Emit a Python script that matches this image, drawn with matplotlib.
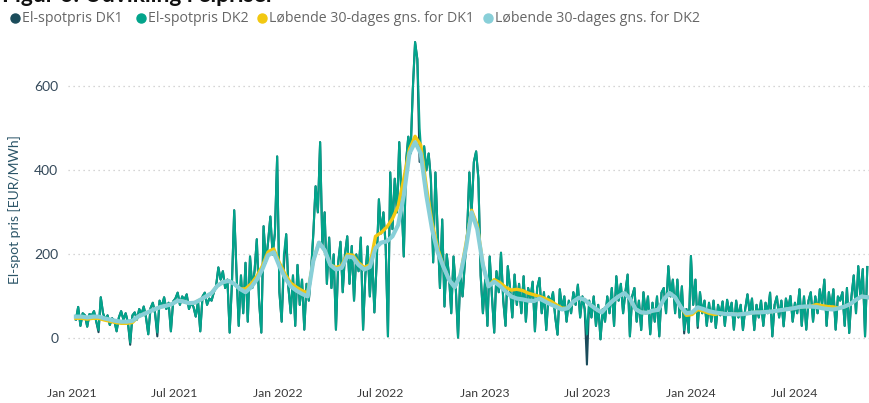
import matplotlib
matplotlib.use('Agg')
import matplotlib.pyplot as plt
import pandas as pd
from matplotlib.lines import Line2D

# ---------------- data ----------------
spot_start = '2021-01-08'
spot_step = '4D'
dk2_spot = [
    45, 75, 30, 60, 55, 28, 58,
    55, 65, 40, 20, 98, 60,
    45, 55, 32, 48, 42, 17, 50, 65,
    45, 60, 38, -10, 55, 62, 45, 70,
    58, 76, 50, 10, 72, 85, 60, 14,
    90, 75, 98, 70, 85, 17, 88,
    95, 109, 80, 100, 92, 105, 70, 85,
    75, 52, 88, 17, 100, 109, 80, 95,
    90, 110, 125, 169, 140, 160, 120, 140,
    14, 130, 305, 160, 30, 150, 60,
    180, 40, 195, 120, 160, 236, 90,
    14, 267, 180, 230, 290, 200, 250, 433,
    110, 40, 200, 248, 120, 60, 150, 30,
    175, 80, 140, 21, 130, 90, 160,
    250, 362, 300, 467, 220, 300, 130, 240,
    120, 200, 21, 180, 230, 110, 200,
    243, 130, 220, 90, 200, 160, 240, 21,
    150, 219, 100, 200, 62, 180, 331,
    250, 300, 220, 5, 395, 260, 380, 300,
    467, 330, 195, 420, 480, 440, 593, 705,
    664, 500, 420, 457, 400, 440, 379,
    181, 395, 250, 120, 283, 76, 200, 150,
    60, 195, 120, 2, 150, 100, 180,
    250, 395, 300, 420, 445, 380, 150, 60,
    140, 30, 195, 100, 14, 160, 110, 204,
    90, 30, 172, 120, 50, 152, 80,
    130, 60, 148, 40, 120, 95, 135, 17,
    120, 144, 60, 110, 20, 100, 85,
    110, 50, 9, 117, 70, 100, 40, 90,
    60, 110, 80, 128, 50, 100, 70, 10,
    90, 50, 100, 30, 80, -2, 70,
    40, 100, 60, 120, 30, 148, 90, 130,
    60, 110, 152, 5, 100, 120, 40,
    90, 20, 110, 60, 100, 10, 85, 40,
    100, 5, 109, 120, 60, 172, 100, 140,
    60, 140, 50, 124, 20, 70, 14,
    196, 80, 140, 30, 110, 60, 90, 30,
    85, 40, 90, 25, 80, 55, 88,
    30, 92, 60, 85, 21, 90, 50, 80,
    20, 70, 105, 60, 95, 20, 80, 50,
    90, 30, 85, 60, 109, 5, 80, 100,
    50, 90, 29, 95, 70, 101, 40,
    85, 60, 117, 30, 100, 21, 90, 110,
    40, 100, 60, 117, 80, 140, 30, 110,
    70, 117, 21, 100, 90, 110, 30,
    120, 13, 100, 150, 60, 172, 100, 165,
    5, 170,
]
# DK1 follows DK2 except at these readings
dk1_diff_idx = [10, 24, 36, 92, 152, 226, 269, 275]
dk1_diff_val = [15, -15, 5, 175, 420, -62, 12, 25]

avg_start = '2021-01-08'
avg_step = '10D'
dk2_avg = [
    52, 52, 50, 52, 52, 48, 45, 42, 40, 40,
    42, 52, 58, 64, 70, 75, 78, 82, 90, 88,
    84, 85, 92, 100, 108, 125, 134, 137, 130, 118,
    110, 122, 140, 165, 198, 205, 172, 145, 124, 114,
    106, 100, 185, 228, 210, 175, 164, 168, 195, 193,
    175, 164, 170, 215, 228, 231, 243, 270, 340, 440,
    467, 440, 340, 260, 205, 171, 140, 122, 150, 215,
    300, 260, 175, 124, 135, 125, 112, 100, 95, 93,
    90, 89, 95, 88, 81, 75, 69, 72, 88, 97,
    92, 80, 70, 62, 77, 90, 100, 108, 95, 70,
    62, 61, 66, 68, 93, 108, 98, 75, 60, 62,
    74, 70, 65, 62, 60, 58, 58, 57, 58, 60,
    62, 62, 63, 64, 66, 68, 70, 72, 75, 76,
    76, 75, 72, 70, 69, 72, 76, 82, 92, 100,
    98,
]
dk1_avg = [
    48, 48, 46, 48, 48, 44, 41, 38, 36, 36, 38,
    52, 58, 64, 70, 75, 78, 82, 90, 88, 84, 85, 92, 100, 108, 125, 134, 137, 130, 118,
    118, 130, 148, 173, 206, 213, 180, 153, 132, 122, 114, 108,
    185, 228, 210, 175,
    169, 173, 200, 198, 180, 169, 175,
    243, 252, 265, 285, 315, 380, 450, 481, 460, 360, 275, 215,
    171, 140, 122, 150,
    225, 305, 270,
    175, 124,
    140, 133, 122, 115, 117, 114, 108, 104, 100, 95, 89, 80, 72,
    72, 88, 97, 92, 80, 70, 62, 77, 90, 100, 108, 95, 70, 62, 61, 66, 68, 93, 108, 98, 75,
    55, 57, 69, 65, 60, 57,
    60, 58, 58, 57, 58, 60, 62, 62, 63, 64, 66, 68, 70, 72, 75, 76, 76,
    81, 78, 76, 75,
    72, 76, 82, 92, 100, 98,
]

series_names = ['El-spotpris DK1', 'El-spotpris DK2',
                'Løbende 30-dages gns. for DK1', 'Løbende 30-dages gns. for DK2']
y_ticks = [0, 200, 400, 600]
x_ticks = ['2021-01-01', '2021-07-01', '2022-01-01', '2022-07-01',
           '2023-01-01', '2023-07-01', '2024-01-01', '2024-07-01']
x_tick_labels = ['Jan 2021', 'Jul 2021', 'Jan 2022', 'Jul 2022',
                 'Jan 2023', 'Jul 2023', 'Jan 2024', 'Jul 2024']
title = 'Figur 6: Udvikling i elpriser'
y_label = 'El-spot pris [EUR/MWh]'

# ---------------- build ----------------
spot_dates = pd.date_range(spot_start, periods=len(dk2_spot), freq=spot_step)
dk1_spot = list(dk2_spot)
for i, v in zip(dk1_diff_idx, dk1_diff_val):
    dk1_spot[i] = v
avg_dates = pd.date_range(avg_start, periods=len(dk2_avg), freq=avg_step)

c_dk1 = '#1B4C5B'
c_dk2 = '#02A48B'
c_avg1 = '#F2C811'
c_avg2 = '#88CFD8'
colors = [c_dk1, c_dk2, c_avg1, c_avg2]

plt.rcParams['font.family'] = ['Lato', 'DejaVu Sans']

fig = plt.figure(figsize=(8.69, 4.03), dpi=100)
ax = fig.add_axes([68 / 869, 33 / 403, 1 - 68 / 869, (370 - 40) / 403])

ax.plot(spot_dates, dk1_spot, color=c_dk1, lw=1.5, zorder=2)
ax.plot(spot_dates, dk2_spot, color=c_dk2, lw=1.5, zorder=3)
ax.plot(avg_dates, dk1_avg, color=c_avg1, lw=2.4, zorder=4, solid_joinstyle='round')
ax.plot(avg_dates, dk2_avg, color=c_avg2, lw=3.0, zorder=5, solid_joinstyle='round')

ax.set_ylim(-75, 710)
ax.set_xlim(pd.Timestamp('2020-12-25'), pd.Timestamp('2024-11-11'))
ax.set_yticks(y_ticks)
ax.set_yticklabels([str(v) for v in y_ticks], fontsize=10, color='#34495A')
ax.set_xticks(pd.to_datetime(x_ticks))
ax.set_xticklabels(x_tick_labels, fontsize=8.8, color='#3A3A3A')
ax.tick_params(axis='both', length=0)
ax.tick_params(axis='x', pad=13)
ax.tick_params(axis='y', pad=7)
ax.grid(axis='y', color='#C8C8C8', linestyle=(0, (1, 3)), lw=0.9)
ax.set_axisbelow(True)
for s in ax.spines.values():
    s.set_visible(False)

fig.text(15 / 869, 1 - 210 / 403, y_label, rotation=90, ha='center', va='center',
         fontsize=10, color='#2B5568')

fig.text(2 / 869, 1 - 2 / 403, title, ha='left', va='baseline',
         fontsize=16.5, fontweight='bold', color='#111111')

leg_dot_x = [15, 141, 262, 488]
leg_y = 1 - 18 / 403
for name, col, dx in zip(series_names, colors, leg_dot_x):
    fig.add_artist(Line2D([dx / 869], [leg_y], marker='o', markersize=6.5,
                          color=col, transform=fig.transFigure, linestyle='none'))
    fig.text((dx + 7) / 869, leg_y, name, ha='left', va='center',
             fontsize=10.2, color='#666666', family=['Open Sans', 'DejaVu Sans'])

fig.savefig('out.png', dpi=100)
